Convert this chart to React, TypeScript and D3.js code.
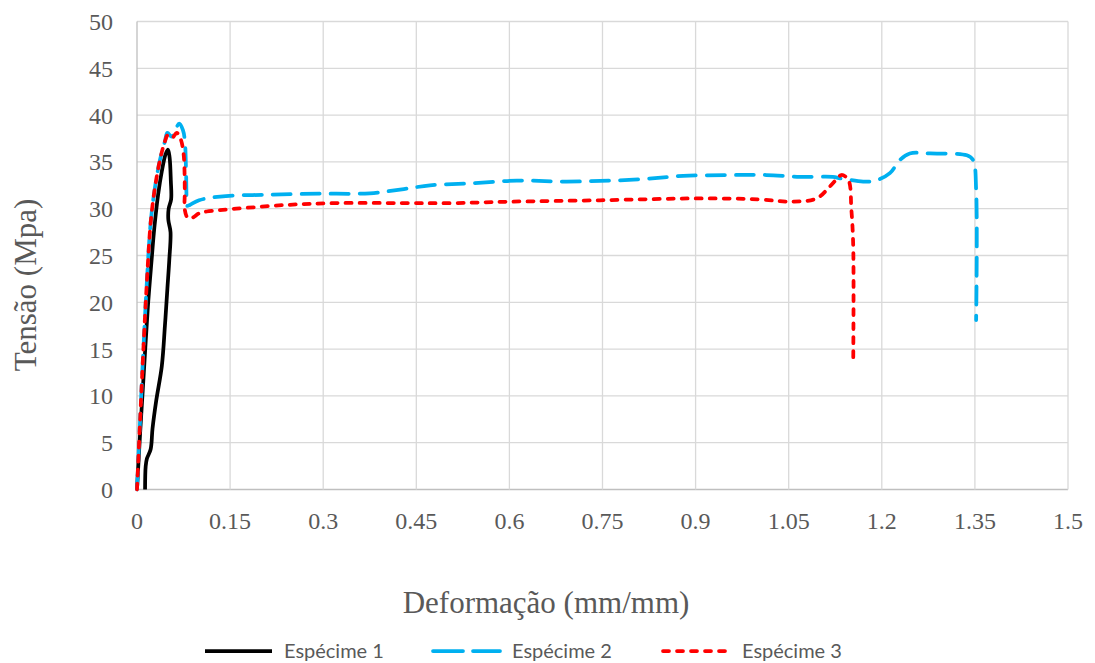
import React from "react";
import * as d3 from "d3";

// Stress–strain curves for three specimens
const s1Strain = [0.013, 0.014, 0.016, 0.022, 0.025, 0.031, 0.04, 0.045, 0.049, 0.052, 0.054, 0.0505, 0.051, 0.055, 0.0545, 0.0525, 0.05, 0.046, 0.04, 0.034, 0.028, 0.0235, 0.0175, 0.011, 0.005, 0];
const s1Stress = [0, 2.5, 3.3, 4.3, 6.5, 9.5, 13.2, 17.5, 21.5, 24.5, 27.5, 28.8, 30.0, 31.0, 33.0, 35.5, 36.3, 35.8, 34.0, 31.5, 28.0, 24.5, 19.5, 12.5, 6.0, 0];

const s2Strain = [0, 0.005, 0.01, 0.0155, 0.022, 0.029, 0.037, 0.045, 0.049, 0.056, 0.068, 0.074, 0.077, 0.079, 0.08, 0.081, 0.085, 0.1, 0.134, 0.214, 0.295, 0.375, 0.43, 0.472, 0.536, 0.612, 0.692, 0.8, 0.88, 0.96, 1.014, 1.068, 1.121, 1.133, 1.17, 1.19, 1.213, 1.229, 1.245, 1.278, 1.337, 1.347, 1.352, 1.352];
const s2Stress = [0, 7.4, 14.6, 21.7, 28.5, 32.3, 35.2, 37.2, 38.1, 37.7, 39.1, 38.4, 37.3, 34.1, 30.9, 30.3, 30.4, 30.9, 31.3, 31.5, 31.6, 31.65, 32.1, 32.5, 32.7, 33.0, 32.9, 33.1, 33.5, 33.6, 33.6, 33.4, 33.4, 33.25, 32.9, 33.0, 33.8, 35.2, 35.9, 35.9, 35.7, 35.2, 32.0, 18.1];

const s3Strain = [0, 0.005, 0.01, 0.0155, 0.022, 0.029, 0.037, 0.045, 0.05, 0.057, 0.064, 0.07, 0.075, 0.077, 0.077, 0.081, 0.088, 0.1, 0.112, 0.16, 0.241, 0.322, 0.429, 0.51, 0.6, 0.746, 0.907, 1.0, 1.054, 1.095, 1.116, 1.128, 1.135, 1.146, 1.151, 1.154, 1.154];
const s3Stress = [0, 7.4, 14.6, 21.7, 28.5, 32.3, 35.2, 37.2, 37.9, 37.6, 38.1, 37.5, 35.9, 32.0, 29.9, 29.1, 29.0, 29.5, 29.7, 30.0, 30.4, 30.6, 30.6, 30.6, 30.75, 30.9, 31.1, 31.0, 30.75, 31.1, 32.35, 33.2, 33.6, 33.1, 29.9, 25.9, 14.0];

const xTicks = [0, 0.15, 0.3, 0.45, 0.6, 0.75, 0.9, 1.05, 1.2, 1.35, 1.5];
const yTicks = [0, 5, 10, 15, 20, 25, 30, 35, 40, 45, 50];

const seriesNames = ["Espécime 1", "Espécime 2", "Espécime 3"];
const seriesColors = ["#000000", "#00B0F0", "#FF0000"];
const seriesDash = ["none", "18 11", "6 8"];

const W = 1095;
const H = 663;
const plot = { left: 137, right: 1068, top: 21.5, bottom: 489.5 };

export default function App() {
  const x = d3.scaleLinear().domain([0, 1.5]).range([plot.left, plot.right]);
  const y = d3.scaleLinear().domain([0, 50]).range([plot.bottom, plot.top]);

  const line = d3
    .line<[number, number]>()
    .x((d) => x(d[0]))
    .y((d) => y(d[1]))
    .curve(d3.curveCatmullRom.alpha(0.5));

  const series: [number, number][][] = [
    s1Strain.map((v, i) => [v, s1Stress[i]]),
    s2Strain.map((v, i) => [v, s2Stress[i]]),
    s3Strain.map((v, i) => [v, s3Stress[i]]),
  ];

  const serif = "'Liberation Serif', 'Times New Roman', serif";
  const sans = "Lato, 'Open Sans', sans-serif";
  const legendX = [205, 433, 663];

  return (
    <svg
      width={W}
      height={H}
      style={{ position: "absolute", left: 0, top: 0, background: "#fff" }}
    >
      {/* grid */}
      {yTicks.map((t) => (
        <line key={"gy" + t} x1={plot.left} x2={plot.right} y1={y(t)} y2={y(t)}
          stroke={t === 0 ? "#bfbfbf" : "#d9d9d9"} strokeWidth={1.3} />
      ))}
      {xTicks.map((t) => (
        <line key={"gx" + t} x1={x(t)} x2={x(t)} y1={plot.top} y2={plot.bottom}
          stroke={t === 0 ? "#bfbfbf" : "#d9d9d9"} strokeWidth={1.3} />
      ))}

      {/* tick labels */}
      {yTicks.map((t) => (
        <text key={"ty" + t} x={113} y={y(t)} dy="0.35em" textAnchor="end"
          fontFamily={serif} fontSize={24} fill="#595959">{t}</text>
      ))}
      {xTicks.map((t) => (
        <text key={"tx" + t} x={x(t)} y={529} textAnchor="middle"
          fontFamily={serif} fontSize={24} fill="#595959">{String(t)}</text>
      ))}

      {/* axis titles */}
      <text x={546} y={613} textAnchor="middle" fontFamily={serif} fontSize={31} fill="#595959">
        Deformação (mm/mm)
      </text>
      <text transform={`translate(36,285) rotate(-90)`} textAnchor="middle"
        fontFamily={serif} fontSize={31} fill="#595959">
        Tensão (Mpa)
      </text>

      {/* curves */}
      {series.map((pts, i) => (
        <path key={"s" + i} d={line(pts) || ""} fill="none" stroke={seriesColors[i]}
          strokeWidth={3.75} strokeDasharray={seriesDash[i]}
          strokeLinecap={i === 0 ? "butt" : "round"} strokeLinejoin="round" />
      ))}

      {/* legend */}
      {seriesNames.map((n, i) => (
        <g key={"lg" + i}>
          <line x1={legendX[i]} x2={legendX[i] + 67} y1={651} y2={651}
            stroke={seriesColors[i]} strokeWidth={3.75}
            strokeDasharray={i === 1 ? "30 10" : seriesDash[i]}
            strokeLinecap={i === 0 ? "butt" : "round"} />
          <text x={legendX[i] + 79} y={651} dy="0.35em" fontFamily={sans}
            fontSize={20} fill="#595959">{n}</text>
        </g>
      ))}
    </svg>
  );
}
